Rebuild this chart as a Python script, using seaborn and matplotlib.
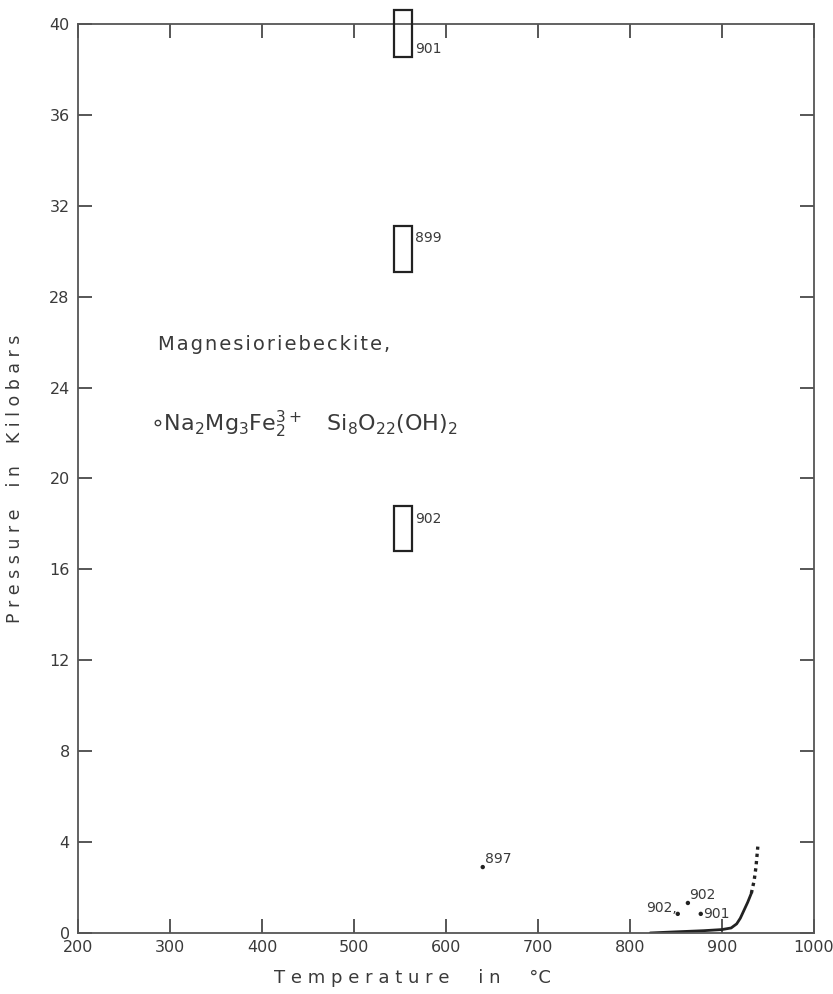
import matplotlib
matplotlib.use("Agg")
from matplotlib import pyplot as plt
from matplotlib.patches import Rectangle
import pandas as pd
import seaborn as sns

# experiment boxes: run number, temperature range (C), pressure range (kbar)
box_runs = ["901", "899", "902"]
box_t_lo = [543, 543, 543]
box_t_hi = [563, 563, 563]
box_p_lo = [38.55, 29.1, 16.8]
box_p_hi = [40.6, 31.1, 18.8]

# single runs shown as dots
dot_runs = ["897", "902", "902", "901"]
dot_t = [640, 852, 863, 877]
dot_p = [2.9, 0.84, 1.32, 0.84]

# breakdown curve, solid then dotted
curve_t = [822, 850, 880, 900, 910, 916, 920, 924, 928, 932]
curve_p = [0.0, 0.05, 0.1, 0.15, 0.22, 0.4, 0.65, 1.0, 1.35, 1.75]
dash_t = [932, 935, 937, 939]
dash_p = [1.75, 2.3, 2.9, 3.8]

x_ticks = [200, 300, 400, 500, 600, 700, 800, 900, 1000]
y_ticks = [0, 4, 8, 12, 16, 20, 24, 28, 32, 36, 40]

sns.set_theme(style="ticks")
plt.rcParams["font.family"] = ["DejaVu Sans"]
ink = "#3a3a3a"
hair = "\u200a"


def spaced(word):
    # loose lettering like the hand-stencilled original
    return hair.join(word)


fig = plt.figure(figsize=(8.33, 9.94), dpi=100)
ax = fig.add_axes([0.0936, 0.0614, 0.8835, 0.9145])

solid = pd.DataFrame({"t": curve_t, "p": curve_p})
dotted = pd.DataFrame({"t": dash_t, "p": dash_p})
sns.lineplot(data=solid, x="t", y="p", ax=ax, color="#222222", lw=2.0,
             sort=False, estimator=None)
sns.lineplot(data=dotted, x="t", y="p", ax=ax, color="#222222", lw=2.4,
             sort=False, estimator=None, linestyle=(0, (1, 1.2)))

dots = pd.DataFrame({"t": dot_t, "p": dot_p})
sns.scatterplot(data=dots, x="t", y="p", ax=ax, color="#222222", s=10,
                edgecolor="none", zorder=4)

for run, t0, t1, p0, p1 in zip(box_runs, box_t_lo, box_t_hi, box_p_lo, box_p_hi):
    ax.add_patch(Rectangle((t0, p0), t1 - t0, p1 - p0, fill=False,
                           ec="#222222", lw=1.6, clip_on=False, zorder=3))

lab_kw = dict(fontsize=10, color=ink)
ax.text(566, 38.6, box_runs[0], ha="left", va="bottom", **lab_kw)
ax.text(566, 30.6, box_runs[1], ha="left", va="center", **lab_kw)
ax.text(566, 18.2, box_runs[2], ha="left", va="center", **lab_kw)

ax.text(dot_t[0] + 2, dot_p[0] + 0.05, dot_runs[0], ha="left", va="bottom", **lab_kw)
ax.text(dot_t[1] - 1, dot_p[1] - 0.05, dot_runs[1] + ",", ha="right", va="bottom", **lab_kw)
ax.text(dot_t[2] + 1, dot_p[2] + 0.05, dot_runs[2], ha="left", va="bottom", **lab_kw)
ax.text(dot_t[3] + 3, dot_p[3], dot_runs[3], ha="left", va="center", **lab_kw)

ax.text(287, 25.9, spaced("Magnesioriebeckite,"), fontsize=14,
        color=ink, ha="left", va="center")
ax.text(278, 22.4,
        "∘Na$_2$Mg$_3$Fe$_2^{3+}$   Si$_8$O$_{22}$(OH)$_2$",
        fontsize=16, color=ink, ha="left", va="center")

ax.set_xlim(200, 1000)
ax.set_ylim(0, 40)
ax.set_xticks(x_ticks)
ax.set_yticks(y_ticks)
ax.tick_params(direction="in", length=10, width=1.2, colors=ink,
               labelsize=11.5, top=True, right=True, pad=6)
ax.tick_params(axis="x", pad=5)
for s in ax.spines.values():
    s.set_linewidth(1.3)
    s.set_color("#555555")

ax.set_xlabel("T e m p e r a t u r e     i n     °C", fontsize=13, color=ink)
ax.xaxis.set_label_coords(0.455, -0.04)
ax.set_ylabel("P r e s s u r e    i n    K i l o b a r s", fontsize=12.5,
              color=ink)
ax.yaxis.set_label_coords(-0.073, 0.5)

fig.savefig("out.png", dpi=100, facecolor="white")
